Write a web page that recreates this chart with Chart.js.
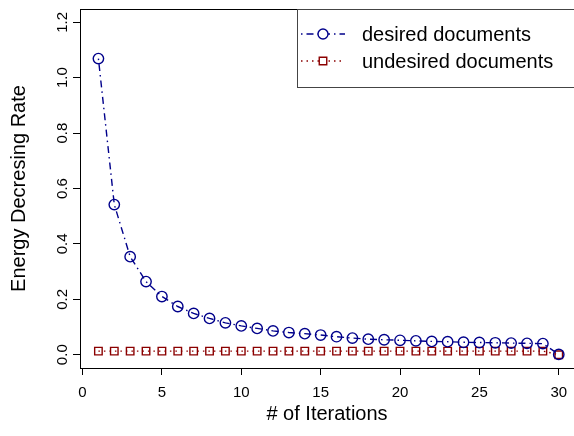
<!DOCTYPE html>
<html>
<head>
<meta charset="utf-8">
<script src="https://cdn.jsdelivr.net/npm/chart.js@4.4.1/dist/chart.umd.min.js"></script>
<style>
  html, body { margin: 0; padding: 0; background: #fff; }
  #wrap { width: 574px; height: 436px; }
</style>
</head>
<body>
<div id="wrap"><canvas id="energyChart"></canvas></div>
<script>
var iterations = [1, 2, 3, 4, 5, 6, 7, 8, 9, 10, 11, 12, 13, 14, 15,
                  16, 17, 18, 19, 20, 21, 22, 23, 24, 25, 26, 27, 28, 29, 30];
var desiredDocs = [1.069, 0.542, 0.354, 0.264, 0.210, 0.174, 0.149, 0.131, 0.115, 0.104,
                   0.095, 0.086, 0.080, 0.076, 0.071, 0.065, 0.060, 0.056, 0.054, 0.052,
                   0.050, 0.048, 0.047, 0.045, 0.044, 0.043, 0.042, 0.041, 0.040, 0.001];
var undesiredDocs = [0.013, 0.013, 0.013, 0.013, 0.013, 0.013, 0.013, 0.013, 0.013, 0.013,
                     0.013, 0.013, 0.013, 0.013, 0.013, 0.013, 0.013, 0.013, 0.013, 0.013,
                     0.013, 0.013, 0.013, 0.013, 0.013, 0.013, 0.013, 0.013, 0.013, 0.000];
var xTicks = [0, 5, 10, 15, 20, 25, 30];
var yTicks = [0.0, 0.2, 0.4, 0.6, 0.8, 1.0, 1.2];
var seriesNames = ["desired documents", "undesired documents"];

var FONT = "'Liberation Sans', Arial, Helvetica, sans-serif";
var blue = "#00008B";
var red = "#8B0000";
var dashDot = [1.5, 4, 7, 4];
var dotted = [1.5, 4];

function pairs(ys) {
  return iterations.map(function(x, i) { return {x: x, y: ys[i]}; });
}

// R style box, rotated y tick labels and legend
var rBox = {
  id: 'rBox',
  afterDraw: function(chart) {
    var ctx = chart.ctx, a = chart.chartArea, ys = chart.scales.y;
    ctx.save();
    ctx.strokeStyle = '#000';
    ctx.lineWidth = 1;
    ctx.beginPath();
    ctx.moveTo(a.left, a.top + 0.5);
    ctx.lineTo(a.right, a.top + 0.5);
    ctx.stroke();

    ctx.fillStyle = '#000';
    ctx.font = '15px ' + FONT;
    ctx.textAlign = 'center';
    ctx.textBaseline = 'middle';
    yTicks.forEach(function(v) {
      ctx.save();
      ctx.translate(a.left - 17, ys.getPixelForValue(v));
      ctx.rotate(-Math.PI / 2);
      ctx.fillText(v.toFixed(1), 0, 0);
      ctx.restore();
    });

    // legend
    var lx = a.left + 217, ly = a.top;
    ctx.strokeStyle = '#444';
    ctx.strokeRect(lx + 0.5, ly + 0.5, 300, 78);
    var rows = [
      {name: seriesNames[0], color: blue, dash: dashDot, style: 'circle', r: 5},
      {name: seriesNames[1], color: red, dash: dotted, style: 'rect', r: 5.3}
    ];
    rows.forEach(function(row, i) {
      var y = ly + 25 + i * 27;
      ctx.strokeStyle = row.color;
      ctx.lineWidth = 1.4;
      ctx.setLineDash(row.dash);
      ctx.beginPath();
      ctx.moveTo(lx + 4, y);
      ctx.lineTo(lx + 48, y);
      ctx.stroke();
      ctx.setLineDash([]);
      ctx.fillStyle = '#fff';
      Chart.helpers.drawPoint(ctx, {pointStyle: row.style, radius: row.r, borderWidth: 1.4}, lx + 26, y);
      ctx.fillStyle = '#000';
      ctx.font = '20px ' + FONT;
      ctx.textAlign = 'left';
      ctx.fillText(row.name, lx + 65, y + 1);
    });
    ctx.restore();
  }
};

var ctx = document.getElementById("energyChart").getContext("2d");
new Chart(ctx, {
  type: 'line',
  data: {
    datasets: [{
      label: seriesNames[0],
      data: pairs(desiredDocs),
      borderColor: blue,
      borderWidth: 1.4,
      borderDash: dashDot,
      pointStyle: 'circle',
      pointRadius: 5.2,
      pointBorderWidth: 1.4,
      pointBorderColor: blue,
      pointBackgroundColor: 'rgba(0,0,0,0)',
      fill: false,
      tension: 0
    }, {
      label: seriesNames[1],
      data: pairs(undesiredDocs),
      borderColor: red,
      borderWidth: 1.4,
      borderDash: dotted,
      pointStyle: 'rect',
      pointRadius: 5.3,
      pointBorderWidth: 1.4,
      pointBorderColor: red,
      pointBackgroundColor: 'rgba(0,0,0,0)',
      fill: false,
      tension: 0
    }]
  },
  options: {
    responsive: true,
    maintainAspectRatio: false,
    animation: false,
    layout: { autoPadding: false, padding: { top: 9, left: 0, right: 0, bottom: 0 } },
    plugins: { legend: { display: false }, tooltip: { enabled: false } },
    scales: {
      x: {
        type: 'linear',
        min: -0.16,
        max: 30.96,
        afterBuildTicks: function(scale) { scale.ticks = xTicks.map(function(v) { return {value: v}; }); },
        afterFit: function(scale) { scale.height = 68; scale.paddingRight = 0; scale.paddingLeft = 0; },
        grid: { display: true, drawOnChartArea: false, drawTicks: true, tickLength: 7, color: '#000' },
        border: { display: true, color: '#000', width: 1 },
        ticks: { color: '#000', font: { family: FONT, size: 15 }, padding: 9, maxRotation: 0 },
        title: { display: true, text: '# of Iterations', color: '#000',
                 font: { family: FONT, size: 20 }, padding: { top: 0, bottom: 10 } }
      },
      y: {
        min: -0.048,
        max: 1.248,
        afterBuildTicks: function(scale) { scale.ticks = yTicks.map(function(v) { return {value: v}; }); },
        afterFit: function(scale) { scale.width = 80; },
        grid: { display: true, drawOnChartArea: false, drawTicks: true, tickLength: 7, color: '#000' },
        border: { display: true, color: '#000', width: 1 },
        ticks: { display: false },
        title: { display: true, text: 'Energy Decresing Rate', color: '#000',
                 font: { family: FONT, size: 20 }, padding: { top: 7, bottom: 0 } }
      }
    }
  },
  plugins: [rBox]
});
</script>
</body>
</html>
